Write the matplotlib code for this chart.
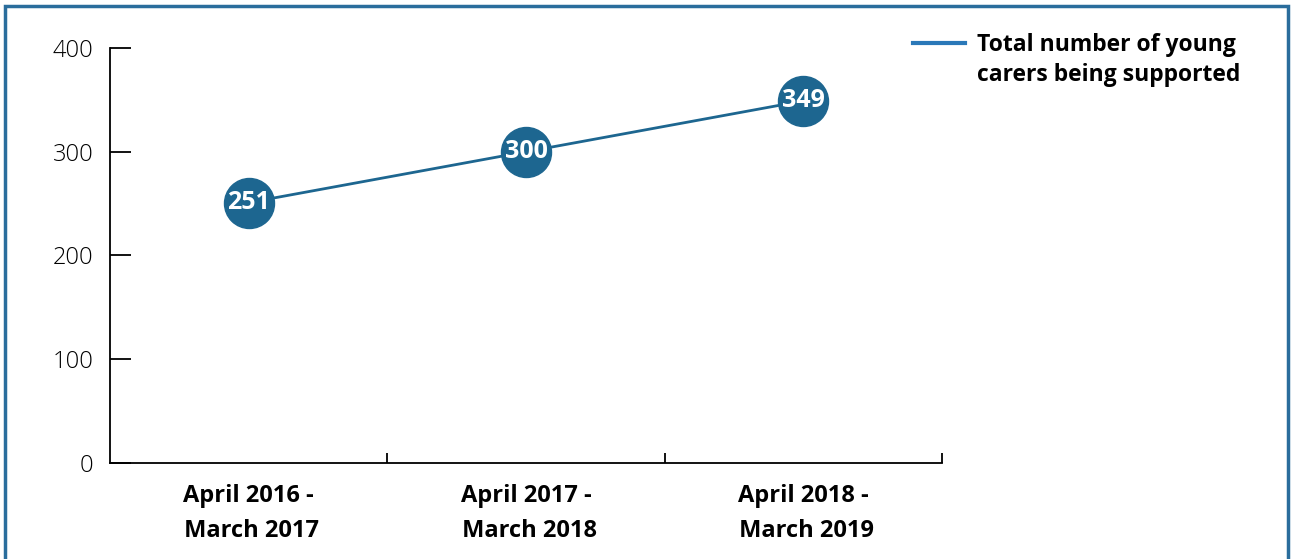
import matplotlib.pyplot as plt
from matplotlib.patches import Rectangle

periods = ["April 2016 -\n March 2017", "April 2017 -\n March 2018", "April 2018 -\n March 2019"]
carers = [251, 300, 349]
yticks = [0, 100, 200, 300, 400]
series_label = ["Total number of young", "carers being supported"]

plt.rcParams['font.family'] = ['Open Sans', 'DejaVu Sans']

W, H = 1293, 559
fig = plt.figure(figsize=(W / 100, H / 100), dpi=100)
ax = fig.add_axes([110 / W, 96 / H, 832 / W, 415 / H])

blue = '#1d6690'
x = list(range(len(carers)))
ax.plot(x, carers, color=blue, lw=2, marker='o', markersize=36,
        markerfacecolor=blue, markeredgecolor=blue, label=series_label[0])
for xi, v in zip(x, carers):
    ax.text(xi, v, str(v), color='white', fontsize=18, fontweight='bold',
            ha='center', va='center')

ax.set_xlim(-0.5, len(carers) - 0.5)
ax.set_ylim(0, 400)
ax.set_yticks(yticks)
ax.set_yticklabels([str(t) for t in yticks], fontweight='light')
ax.tick_params(axis='y', direction='in', length=15, width=1.3, pad=12, labelsize=17)

ax.set_xticks(x)
ax.set_xticklabels(periods, fontweight='bold', fontsize=17, linespacing=1.6)
ax.tick_params(axis='x', which='major', length=0, pad=15)
ax.set_xticks([i + 0.5 for i in x], minor=True)
ax.tick_params(axis='x', which='minor', direction='in', length=7, width=1.3)

for s in ['top', 'right']:
    ax.spines[s].set_visible(False)
for s in ['left', 'bottom']:
    ax.spines[s].set_linewidth(1.3)

leg = fig.legend(loc='upper left', bbox_to_anchor=(892 / W, 1 - 12 / H),
                 frameon=False, handlelength=2.3, handletextpad=0.5,
                 prop={'weight': 'bold', 'size': 16.5})
leg.get_lines()[0].set_color('#2a78b8')
leg.get_lines()[0].set_linewidth(3)
leg.get_lines()[0].set_marker('')

# second line of the legend label, placed under the first
fig.canvas.draw()
bb = leg.get_texts()[0].get_window_extent()
fig.text(bb.x0 / W, (bb.y0 - 30) / H, series_label[1], fontsize=16.5,
         fontweight='bold', ha='left', va='bottom')

fig.patches.append(Rectangle((5 / W, -0.1), 1283 / W, 1.1 - 6 / H,
                             transform=fig.transFigure, fill=False,
                             edgecolor='#2a6d9c', lw=2.5))

fig.savefig('out.png', dpi=100)
